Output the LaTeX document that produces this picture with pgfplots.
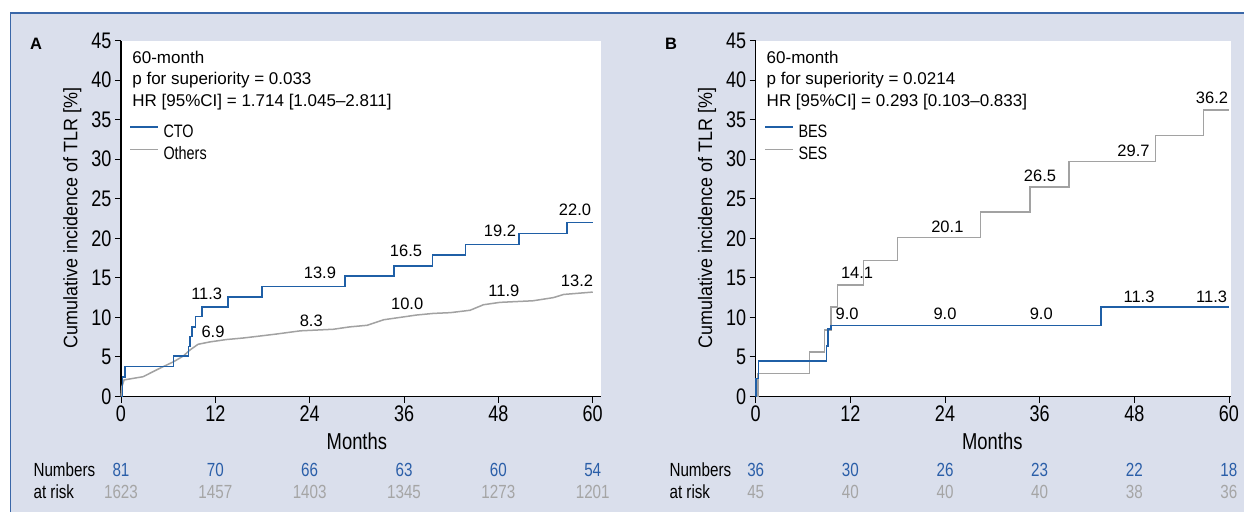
\documentclass[border=0pt]{standalone}
\usepackage{fontspec}
\setmainfont{Liberation Sans}
\newfontfamily\cond{Liberation Sans}[FakeStretch=0.8]
\newfontfamily\ylab{Liberation Sans}[FakeStretch=0.92]
\usepackage{pgfplots}
\pgfplotsset{compat=1.18}

\definecolor{bgpanel}{HTML}{DADFEC}
\definecolor{frameblue}{HTML}{3A67A8}
\definecolor{kmblue}{HTML}{1F5FA6}
\definecolor{kmgray}{HTML}{A2A2A2}
\definecolor{txtblue}{HTML}{2A5EA8}
\definecolor{txtgray}{HTML}{A5A5A5}

\newcommand{\fs}[1]{\fontsize{#1}{#1}\selectfont}

% CTO (panel A, blue)
\pgfplotstableread{
x y
0 0
0.2 2.5
0.5 3.8
6.7 5.1
8.6 6.3
8.8 7.6
9.05 8.8
9.5 10.1
10.3 11.3
13.6 12.6
17.9 13.9
28.5 15.2
34.7 16.5
39.6 17.9
43.8 19.2
50.6 20.6
56.7 22.0
60 22.0
}\ctodata

% Others (panel A, gray)
\pgfplotstableread{
x y
0 0
0.1 1.2
0.4 2.1
1.6 2.3
2.8 2.5
4.0 3.1
5.0 3.6
6.7 4.4
7.9 5.1
8.8 5.9
9.8 6.6
11.3 6.9
13.4 7.2
15.6 7.4
17.3 7.6
19.8 7.9
22.8 8.3
27.0 8.5
29.1 8.8
31.3 9.0
33.4 9.7
35.5 10.0
37.6 10.3
39.7 10.5
41.9 10.6
44.4 10.9
46.1 11.6
48.2 11.9
52.4 12.1
55.0 12.5
56.3 12.9
60 13.2
}\othersdata

% BES (panel B, blue)
\pgfplotstableread{
x y
0 0
0.05 2.3
0.33 4.5
9.0 6.4
9.2 8.5
9.55 9.0
43.8 11.3
60 11.3
}\besdata

% SES (panel B, gray)
\pgfplotstableread{
x y
0 0
0.3 2.9
6.8 5.6
8.7 8.4
9.55 11.3
10.35 14.1
13.65 17.2
18.0 20.1
28.5 23.3
34.8 26.5
39.7 29.7
50.7 33.0
56.8 36.2
60 36.2
}\sesdata

\tikzset{
  vlab/.style={anchor=base, font=\fs{16.5}},
  note/.style={anchor=base west, font=\fs{17}},
  risk/.style={anchor=base, font=\cond\fs{19}},
  rb/.style={risk, text=txtblue},
  rg/.style={risk, text=txtgray},
}

\pgfplotsset{
  kmaxis/.style={
    anchor=south west, scale only axis, height=356pt,
    xmin=0, ymin=0, ymax=45,
    axis lines=left, axis line style={-, line width=1.1pt},
    axis background/.style={fill=white},
    xtick={0,12,...,60}, xticklabels={0,12,24,36,48,60},
    ytick={0,5,...,45}, yticklabels={0,5,10,15,20,25,30,35,40,45},
    tick align=outside, major tick length=6pt,
    tick style={black, line width=0.9pt},
    ticklabel style={font=\cond\fs{22.5}},
    clip=false,
    reverse legend,
    legend style={draw=none, fill=none, anchor=north west,
      font=\cond\fs{18}, row sep=5.7pt, inner sep=0pt,
      nodes={inner sep=0pt, text height=13pt, text depth=4pt},
      cells={anchor=west}},
    legend image code/.code={
      \draw[##1] (0pt,6pt) -- (28pt,6pt);
      \path (32.7pt,0pt);},
    every axis plot/.append style={const plot},
  },
}

\begin{document}
\begin{tikzpicture}
\useasboundingbox (0pt,0pt) rectangle (1244pt,512pt);
\fill[white] (0pt,0pt) rectangle (1244pt,512pt);
\fill[bgpanel] (10.5pt,0pt) rectangle (1244pt,499pt);
\draw[frameblue, line width=1.2pt] (10.5pt,0pt) -- (10.5pt,499pt) -- (1244pt,499pt);

% ---------- panel A ----------
\begin{axis}[kmaxis, at={(121pt,115.5pt)}, width=479.6pt, xmax=61,
  legend style={at={(rel axis cs:0.0167,0.7654)}}]
\addplot[kmgray, sharp plot, line width=1.5pt] table {\othersdata};
\addlegendentry{Others}
\addplot[kmblue, line width=1.6pt] table {\ctodata};
\addlegendentry{CTO}

\node[vlab] at (axis cs:10.9,12.3) {11.3};
\node[vlab] at (axis cs:25.3,14.9) {13.9};
\node[vlab] at (axis cs:36.25,17.7) {16.5};
\node[vlab] at (axis cs:48.2,20.2) {19.2};
\node[vlab] at (axis cs:57.75,22.9) {22.0};
\node[vlab] at (axis cs:11.7,7.5) {6.9};
\node[vlab] at (axis cs:24.2,8.8) {8.3};
\node[vlab] at (axis cs:36.4,11.0) {10.0};
\node[vlab] at (axis cs:48.7,12.6) {11.9};
\node[vlab] at (axis cs:58.0,13.9) {13.2};

\node[note] at (axis cs:1.0,42.12) {60-month};
\node[note] at (axis cs:1.0,39.38) {p for superiority = 0.033};
\node[note] at (axis cs:1.0,36.63) {HR [95\%CI] = 1.714 [1.045--2.811]};

\node[anchor=base, font=\cond\fs{23}] at (axis cs:30,-6.7) {Months};
\node[risk, anchor=base west] at (axis cs:-11.57,-10.05) {Numbers};
\node[risk, anchor=base west] at (axis cs:-11.57,-12.92) {at risk};
\node[rb] at (axis cs:0,-10.05) {81};
\node[rb] at (axis cs:12,-10.05) {70};
\node[rb] at (axis cs:24,-10.05) {66};
\node[rb] at (axis cs:36,-10.05) {63};
\node[rb] at (axis cs:48,-10.05) {60};
\node[rb] at (axis cs:60,-10.05) {54};
\node[rg] at (axis cs:0,-12.92) {1623};
\node[rg] at (axis cs:12,-12.92) {1457};
\node[rg] at (axis cs:24,-12.92) {1403};
\node[rg] at (axis cs:36,-12.92) {1345};
\node[rg] at (axis cs:48,-12.92) {1273};
\node[rg] at (axis cs:60,-12.92) {1201};
\end{axis}

% ---------- panel B ----------
\begin{axis}[kmaxis, at={(755.7pt,115.5pt)}, width=475.6pt, xmax=60.3,
  legend style={at={(rel axis cs:0.0175,0.7654)}}]
\addplot[kmgray, line width=1.5pt] table {\sesdata};
\addlegendentry{SES}
\addplot[kmblue, line width=1.6pt] table {\besdata};
\addlegendentry{BES}

\node[vlab] at (axis cs:57.85,37.0) {36.2};
\node[vlab] at (axis cs:47.9,30.35) {29.7};
\node[vlab] at (axis cs:36.05,27.2) {26.5};
\node[vlab] at (axis cs:24.3,20.7) {20.1};
\node[vlab] at (axis cs:12.85,14.95) {14.1};
\node[vlab] at (axis cs:11.6,9.7) {9.0};
\node[vlab] at (axis cs:24.0,9.7) {9.0};
\node[vlab] at (axis cs:36.2,9.7) {9.0};
\node[vlab] at (axis cs:48.6,11.9) {11.3};
\node[vlab] at (axis cs:57.8,11.9) {11.3};

\node[note] at (axis cs:0.95,42.12) {60-month};
\node[note] at (axis cs:0.95,39.38) {p for superiority = 0.0214};
\node[note] at (axis cs:0.95,36.63) {HR [95\%CI] = 0.293 [0.103--0.833]};

\node[anchor=base, font=\cond\fs{23}] at (axis cs:30,-6.7) {Months};
\node[risk, anchor=base west] at (axis cs:-11.37,-10.05) {Numbers};
\node[risk, anchor=base west] at (axis cs:-11.37,-12.92) {at risk};
\node[rb] at (axis cs:0,-10.05) {36};
\node[rb] at (axis cs:12,-10.05) {30};
\node[rb] at (axis cs:24,-10.05) {26};
\node[rb] at (axis cs:36,-10.05) {23};
\node[rb] at (axis cs:48,-10.05) {22};
\node[rb] at (axis cs:60,-10.05) {18};
\node[rg] at (axis cs:0,-12.92) {45};
\node[rg] at (axis cs:12,-12.92) {40};
\node[rg] at (axis cs:24,-12.92) {40};
\node[rg] at (axis cs:36,-12.92) {40};
\node[rg] at (axis cs:48,-12.92) {38};
\node[rg] at (axis cs:60,-12.92) {36};
\end{axis}

% panel letters and y labels
\node[font=\bfseries\fs{16.5}] at (36pt,468pt) {A};
\node[font=\bfseries\fs{16.5}] at (671pt,468pt) {B};
\node[rotate=90, anchor=base, font=\ylab\fs{19.5}] at (77.3pt,294pt) {Cumulative incidence of TLR [\%]};
\node[rotate=90, anchor=base, font=\ylab\fs{19.5}] at (712pt,294pt) {Cumulative incidence of TLR [\%]};
\end{tikzpicture}
\end{document}
